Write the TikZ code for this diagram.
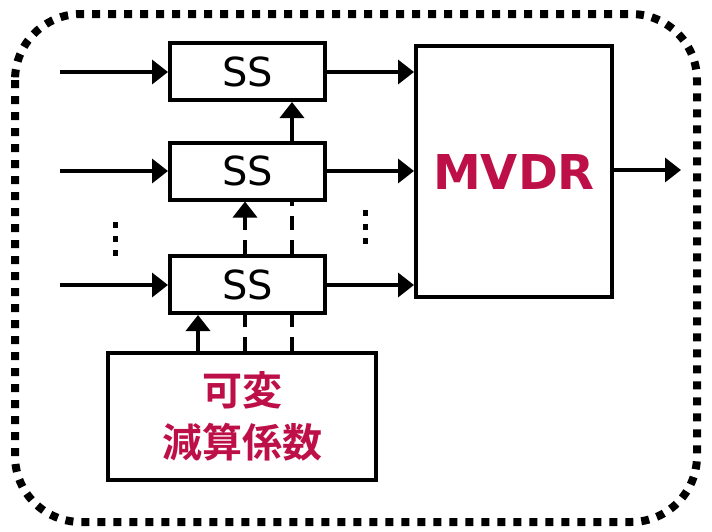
\documentclass[tikz,border=0pt]{standalone}
\usepackage{fontspec}
\setmainfont{DejaVu Sans}
\newfontfamily\cjk{Noto Sans CJK JP}[BoldFont={* Bold}]
\usetikzlibrary{arrows.meta}
\definecolor{crim}{RGB}{190,16,72}
\begin{document}
\begin{tikzpicture}[x=1pt,y=-1pt,
  blk/.style={draw,line width=4pt,fill=white,inner sep=0pt},
  ar/.style={line width=3.5pt,-{Triangle[length=16pt,width=24pt]}},
  ln/.style={line width=3.5pt},
  dsh/.style={line width=3.5pt,dash pattern=on 14pt off 10pt},
  sstext/.style={font=\fontsize{40}{40}\selectfont}]
\useasboundingbox (0,0) rectangle (712,531);
\draw[line width=8pt,dash pattern=on 8pt off 8pt,rounded corners=66pt] (15,14) rectangle (697,522);
% SS boxes
\node[blk,minimum width=155pt,minimum height=57pt,sstext] (s1) at (247.5,71.5) {SS};
\node[blk,minimum width=155pt,minimum height=57pt,sstext] (s2) at (247.5,171) {SS};
\node[blk,minimum width=155pt,minimum height=57pt,sstext] (s3) at (247.5,284.5) {SS};
\node[blk,minimum width=196pt,minimum height=251pt,text=crim,font=\fontsize{48}{48}\selectfont\bfseries] (mv) at (514,171.5) {MVDR};
\node[blk,minimum width=268pt,minimum height=127pt,text=crim,align=center,font=\fontsize{40}{52}\selectfont\cjk\bfseries] (k) at (242,416.5) {可変\\減算係数};
% inputs
\coordinate (i1) at (60,72);
\coordinate (i2) at (60,171);
\coordinate (i3) at (60,285);
\draw[ar] (i1) -- (s1.west |- i1);
\draw[ar] (i2) -- (s2.west |- i2);
\draw[ar] (i3) -- (s3.west |- i3);
\draw[ar] (s1.east |- i1) -- (mv.west |- i1);
\draw[ar] (s2.east |- i2) -- (mv.west |- i2);
\draw[ar] (s3.east |- i3) -- (mv.west |- i3);
\coordinate (o) at (681,170);
\draw[ar] (mv.east |- o) -- (o);
% control lines
\coordinate (ca) at (198,0);
\coordinate (cb) at (245,0);
\coordinate (cc) at (292,0);
\draw[ar] (k.north -| ca) -- (s3.south -| ca);
\draw[dsh] (k.north -| cb) -- (s3.south -| cb);
\draw[dsh] (k.north -| cc) -- (s3.south -| cc);
\draw[ar,dash pattern=on 14pt off 10pt] (s3.north -| cb) -- (s2.south -| cb);
\draw[dsh] (s3.north -| cc) -- (s2.south -| cc);
\draw[ar] (s2.north -| cc) -- (s1.south -| cc);
% vertical dots
\foreach \y in {225,239,253} {
  \fill (112.5,\y-3) rectangle (117.5,\y+3);
  \fill (362.5,\y-15) rectangle (367.5,\y-9);
}
\end{tikzpicture}
\end{document}
